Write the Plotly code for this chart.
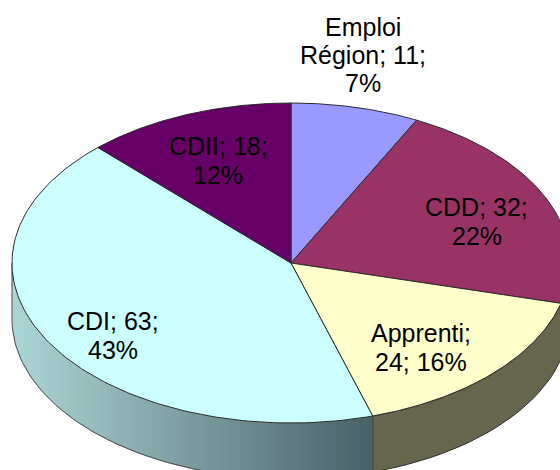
import numpy as np
import plotly.graph_objects as go

categories = ["Emploi Région", "CDD", "Apprenti", "CDI", "CDII"]
values = [11, 32, 24, 63, 18]
colors = ["#9999FF", "#993366", "#FFFFCC", "#CCFFFF", "#660066"]
label_lines = [["Emploi", "Région; 11;", "7%"], ["CDD; 32;", "22%"], ["Apprenti;", "24; 16%"], ["CDI; 63;", "43%"], ["CDII; 18;", "12%"]]
label_x = [363, 476.5, 421, 113, 218]
label_y = [27, 207, 333, 321, 145.5]
line_gap = [28, 29, 29, 29, 29]

CX, CY, RX, RY, DEPTH = 291, 263, 279, 160, 56
EDGE = "#2b2b2b"
WALL_EDGE = "#4a4a4a"


def pt(t, dy=0.0):
    return CX + RX * np.sin(t), CY - RY * np.cos(t) + dy


def mix(a, b, f):
    return "rgb(%d,%d,%d)" % tuple(round(x + (y - x) * f) for x, y in zip(a, b))


fractions = np.cumsum([0] + values) / sum(values) * 2 * np.pi
fig = go.Figure()


def poly(xs, ys, fill, line=None, width=1):
    fig.add_trace(go.Scatter(x=xs, y=ys, mode="lines", fill="toself", fillcolor=fill,
                             line=dict(color=line or fill, width=width if line else 0.6),
                             hoverinfo="skip", showlegend=False))


def wall(t0, t1, fill, line=None):
    t = np.linspace(t0, t1, 24)
    x, y = pt(t)
    xb, yb = pt(t[::-1], DEPTH)
    poly(np.r_[x, xb, x[0]], np.r_[y, yb, y[0]], fill, line)


# side wall of Apprenti, flat shade
wall(fractions[2], fractions[3], "#66664F", EDGE)

# side wall of CDI, shaded left-to-right with thin strips
LIGHT, DARK = (172, 214, 214), (74, 98, 104)
t_end = 3 * np.pi / 2
xs_edges = np.linspace(pt(t_end)[0], pt(fractions[3])[0], 121)
for i in range(len(xs_edges) - 1):
    xa, xb = xs_edges[i], min(xs_edges[i + 1] + 0.6, xs_edges[-1])
    ta = np.pi + np.arcsin(np.clip((CX - xa) / RX, -1, 1))
    tb = np.pi + np.arcsin(np.clip((CX - xb) / RX, -1, 1))
    wall(tb, ta, mix(LIGHT, DARK, i / 119))

# outline of CDI wall
t = np.linspace(fractions[3], t_end, 90)
xo, yo = pt(t, DEPTH)
xtop, ytop = pt(t_end)
xe, ye = pt(fractions[3])
xe2, ye2 = pt(fractions[3], DEPTH)
fig.add_trace(go.Scatter(x=np.r_[xe, xe2, xo, xtop], y=np.r_[ye, ye2, yo, ytop], mode="lines",
                         line=dict(color=WALL_EDGE, width=1), hoverinfo="skip", showlegend=False))

# top face
for i, c in enumerate(colors):
    t = np.linspace(fractions[i], fractions[i + 1], 120)
    x, y = pt(t)
    poly(np.r_[CX, x, CX], np.r_[CY, y, CY], c, EDGE)

annotations = []
for lines, x, y, gap in zip(label_lines, label_x, label_y, line_gap):
    for j, s in enumerate(lines):
        annotations.append(dict(x=x, y=y + j * gap, text=s, showarrow=False, xref="x", yref="y",
                                xanchor="center", yanchor="middle",
                                font=dict(family="Liberation Sans", size=25, color="#000000")))

fig.update_layout(width=560, height=470, margin=dict(l=0, r=0, t=0, b=0),
                  paper_bgcolor="white", plot_bgcolor="white", showlegend=False,
                  annotations=annotations,
                  xaxis=dict(range=[0, 560], visible=False, fixedrange=True),
                  yaxis=dict(range=[470, 0], visible=False, fixedrange=True))
fig.write_html("out.html", config=dict(displayModeBar=False),
               post_script="document.body.style.margin='0';document.documentElement.style.overflow='hidden';")
